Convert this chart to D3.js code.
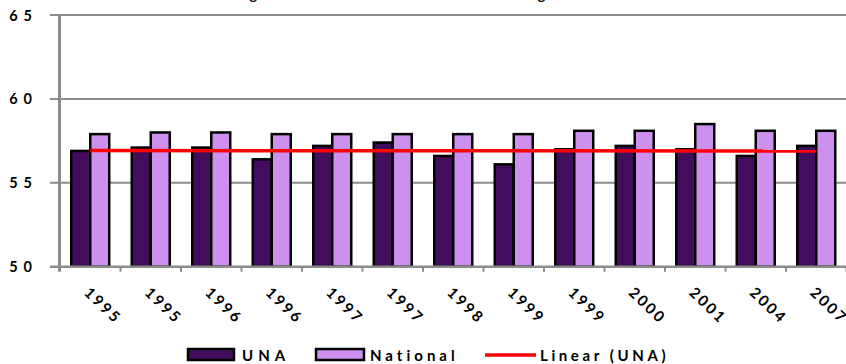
<!DOCTYPE html>
<html>
<head>
<meta charset="utf-8">
<script src="https://cdn.jsdelivr.net/npm/d3@7"></script>
<style>
  html, body { margin: 0; padding: 0; background: #fff; }
  svg { display: block; }
  text { font-family: Lato, "Open Sans", sans-serif; font-weight: bold; fill: #000; }
</style>
</head>
<body>
<svg id="chart" width="846" height="364"></svg>
<script>
// Survey years (some years have two rounds)
const years = ["1995", "1995", "1996", "1996", "1997", "1997", "1998", "1999", "1999", "2000", "2001", "2004", "2007"];
// Average scores
const unaValues = [56.9, 57.1, 57.1, 56.4, 57.2, 57.4, 56.6, 56.1, 57.0, 57.2, 57.0, 56.6, 57.2];
const nationalValues = [57.9, 58.0, 58.0, 57.9, 57.9, 57.9, 57.9, 57.9, 58.1, 58.1, 58.5, 58.1, 58.1];
const seriesNames = ["UNA", "National"];
const yTicks = [50, 55, 60, 65];
const title = "Figure 6: UNA and National Averages";

const colors = { UNA: "#410d5c", National: "#cd90ee", trend: "#ff0000" };

const svg = d3.select("#chart");
const plotLeft = 60, plotRight = 846.5, plotTop = 15, plotBottom = 266.7;

const x0 = d3.scaleBand()
  .domain(d3.range(years.length))
  .range([plotLeft, plotRight])
  .paddingInner(0.372)
  .paddingOuter(0.186);
const x1 = d3.scaleBand().domain(seriesNames).range([0, x0.bandwidth()]);
const y = d3.scaleLinear().domain([50, 65]).range([plotBottom, plotTop]);

// Title line sitting just above the top edge
svg.append("text")
  .attr("x", 232).attr("y", -0.5)
  .attr("font-size", 14)
  .style("letter-spacing", "3px")
  .text(title);

// Horizontal gridlines
svg.append("g")
  .selectAll("line")
  .data(yTicks.filter(t => t !== 50))
  .join("line")
  .attr("x1", 50).attr("x2", 846)
  .attr("y1", d => y(d)).attr("y2", d => y(d))
  .attr("stroke", "#8c8c8c").attr("stroke-width", 2);

// Y tick labels
svg.append("g")
  .selectAll("text")
  .data(yTicks)
  .join("text")
  .attr("x", 38).attr("y", d => y(d))
  .attr("text-anchor", "end")
  .attr("dominant-baseline", "central")
  .attr("font-size", 14.5)
  .style("letter-spacing", "6px")
  .text(d => d);

// Bars
const rows = years.map((yr, i) => ({ i, values: [unaValues[i], nationalValues[i]] }));
const groups = svg.append("g").selectAll("g")
  .data(rows)
  .join("g")
  .attr("transform", d => `translate(${x0(d.i)},0)`);
groups.selectAll("rect")
  .data(d => d.values.map((v, k) => ({ name: seriesNames[k], v })))
  .join("rect")
  .attr("x", d => x1(d.name))
  .attr("width", x1.bandwidth())
  .attr("y", d => y(d.v))
  .attr("height", d => y(50) - y(d.v))
  .attr("fill", d => colors[d.name])
  .attr("stroke", "#000")
  .attr("stroke-width", 2.5);

// Axes lines
svg.append("line")
  .attr("x1", 50).attr("x2", 846)
  .attr("y1", y(50)).attr("y2", y(50))
  .attr("stroke", "#8c8c8c").attr("stroke-width", 2.5);
svg.append("line")
  .attr("x1", plotLeft - 0.5).attr("x2", plotLeft - 0.5)
  .attr("y1", plotTop).attr("y2", y(50) + 5)
  .attr("stroke", "#8c8c8c").attr("stroke-width", 3);

// Category boundary ticks
const step = x0.step();
svg.append("g")
  .selectAll("line")
  .data(d3.range(1, years.length + 1))
  .join("line")
  .attr("x1", k => plotLeft + k * step).attr("x2", k => plotLeft + k * step)
  .attr("y1", y(50)).attr("y2", y(50) + 5)
  .attr("stroke", "#8c8c8c").attr("stroke-width", 2);

// Rotated year labels
svg.append("g")
  .selectAll("text")
  .data(years)
  .join("text")
  .attr("transform", (d, i) => {
    const cx = x0(i) + x0.bandwidth() / 2 - 7;
    return `translate(${cx},${y(50) + 27}) rotate(44)`;
  })
  .attr("font-size", 15)
  .style("letter-spacing", "2.5px")
  .text(d => d);

// Linear trend of UNA (least squares)
const xs = d3.range(1, unaValues.length + 1);
const mx = d3.mean(xs), my = d3.mean(unaValues);
const slope = d3.sum(xs, (xv, i) => (xv - mx) * (unaValues[i] - my)) / d3.sum(xs, xv => (xv - mx) ** 2);
const intercept = my - slope * mx;
const trend = xs.map((xv, i) => ({ i, v: intercept + slope * xv }));
svg.append("path")
  .datum([trend[0], trend[trend.length - 1]])
  .attr("d", d3.line().x(d => x0(d.i) + x0.bandwidth() / 2).y(d => y(d.v)))
  .attr("stroke", colors.trend).attr("stroke-width", 3.5).attr("fill", "none");

// Legend
const legend = svg.append("g");
legend.append("rect").attr("x", 188).attr("y", 349).attr("width", 46).attr("height", 11)
  .attr("fill", colors.UNA).attr("stroke", "#000").attr("stroke-width", 2.5);
legend.append("text").attr("x", 242).attr("y", 361).attr("font-size", 15)
  .style("letter-spacing", "5px").text("UNA");
legend.append("rect").attr("x", 316).attr("y", 349).attr("width", 48).attr("height", 11)
  .attr("fill", colors.National).attr("stroke", "#000").attr("stroke-width", 2.5);
legend.append("text").attr("x", 370).attr("y", 361).attr("font-size", 15)
  .style("letter-spacing", "4px").text("National");
legend.append("line").attr("x1", 485).attr("x2", 536).attr("y1", 355).attr("y2", 355)
  .attr("stroke", colors.trend).attr("stroke-width", 3.5);
legend.append("text").attr("x", 540).attr("y", 361).attr("font-size", 15)
  .style("letter-spacing", "3.6px").text("Linear (UNA)");
</script>
</body>
</html>
